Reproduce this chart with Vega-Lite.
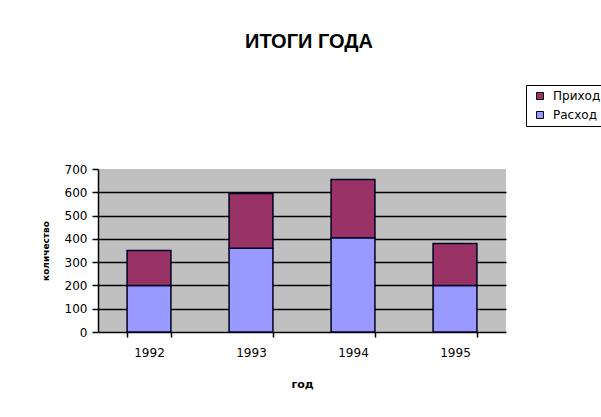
{
  "$schema": "https://vega.github.io/schema/vega-lite/v6.json",
  "autosize": "none",
  "width": 408,
  "height": 163,
  "padding": {"left": 98, "top": 169, "right": 95, "bottom": 85},
  "background": "white",
  "title": {
    "text": "ИТОГИ ГОДА",
    "font": "Liberation Sans",
    "fontSize": 20,
    "fontWeight": "bold",
    "color": "#000000",
    "anchor": "middle",
    "frame": "group",
    "dx": 7,
    "offset": 33
  },
  "data": {
    "values": [
      {"year": "1992", "type": "Расход", "value": 200},
      {"year": "1992", "type": "Приход", "value": 150},
      {"year": "1993", "type": "Расход", "value": 360},
      {"year": "1993", "type": "Приход", "value": 235},
      {"year": "1994", "type": "Расход", "value": 405},
      {"year": "1994", "type": "Приход", "value": 250},
      {"year": "1995", "type": "Расход", "value": 200},
      {"year": "1995", "type": "Приход", "value": 180}
    ]
  },
  "mark": {"type": "bar", "stroke": "#000022", "strokeWidth": 1.5},
  "encoding": {
    "x": {
      "field": "year",
      "type": "nominal",
      "title": "год",
      "scale": {"paddingInner": 0.57, "paddingOuter": 0.285},
      "axis": {
        "labelAngle": 0,
        "tickBand": "extent",
        "tickSize": 5,
        "labelPadding": 10,
        "titlePadding": 20,
        "titleFontWeight": "bold",
        "titleFontSize": 11,
        "domainColor": "#000000",
        "domainWidth": 1.5,
        "tickColor": "#000000",
        "tickWidth": 1.5
      }
    },
    "y": {
      "field": "value",
      "type": "quantitative",
      "stack": "zero",
      "title": "количество",
      "scale": {"domain": [0, 700], "nice": false},
      "axis": {
        "values": [0, 100, 200, 300, 400, 500, 600, 700],
        "grid": true,
        "gridColor": "#000000",
        "gridWidth": 1.5,
        "gridOpacity": {"condition": {"test": "datum.value === 700 || datum.value === 0", "value": 0}, "value": 1},
        "tickSize": 6,
        "labelPadding": 5,
        "titlePadding": 14,
        "titleFontWeight": "bold",
        "titleFontSize": 9,
        "domainColor": "#000000",
        "domainWidth": 1.5,
        "tickColor": "#000000",
        "tickWidth": 1.5
      }
    },
    "color": {
      "field": "type",
      "type": "nominal",
      "title": null,
      "scale": {"domain": ["Приход", "Расход"], "range": ["#993366", "#9999FF"]},
      "legend": {
        "orient": "none",
        "legendX": 428,
        "legendY": -84,
        "strokeColor": "#000000",
        "fillColor": "#ffffff",
        "padding": 5,
        "symbolType": "square",
        "symbolSize": 49,
        "symbolStrokeColor": "#000000",
        "symbolStrokeWidth": 1,
        "symbolOffset": 3,
        "labelOffset": 7,
        "rowPadding": 7,
        "labelFontSize": 12,
        "labelFont": "DejaVu Sans",
        "labelColor": "#000000"
      }
    },
    "order": {"field": "type", "sort": "descending"}
  },
  "config": {
    "view": {"fill": "#C0C0C0", "stroke": null},
    "axis": {
      "labelFont": "DejaVu Sans",
      "labelFontSize": 12,
      "labelColor": "#000000",
      "titleFont": "DejaVu Sans",
      "titleColor": "#000000"
    }
  }
}
